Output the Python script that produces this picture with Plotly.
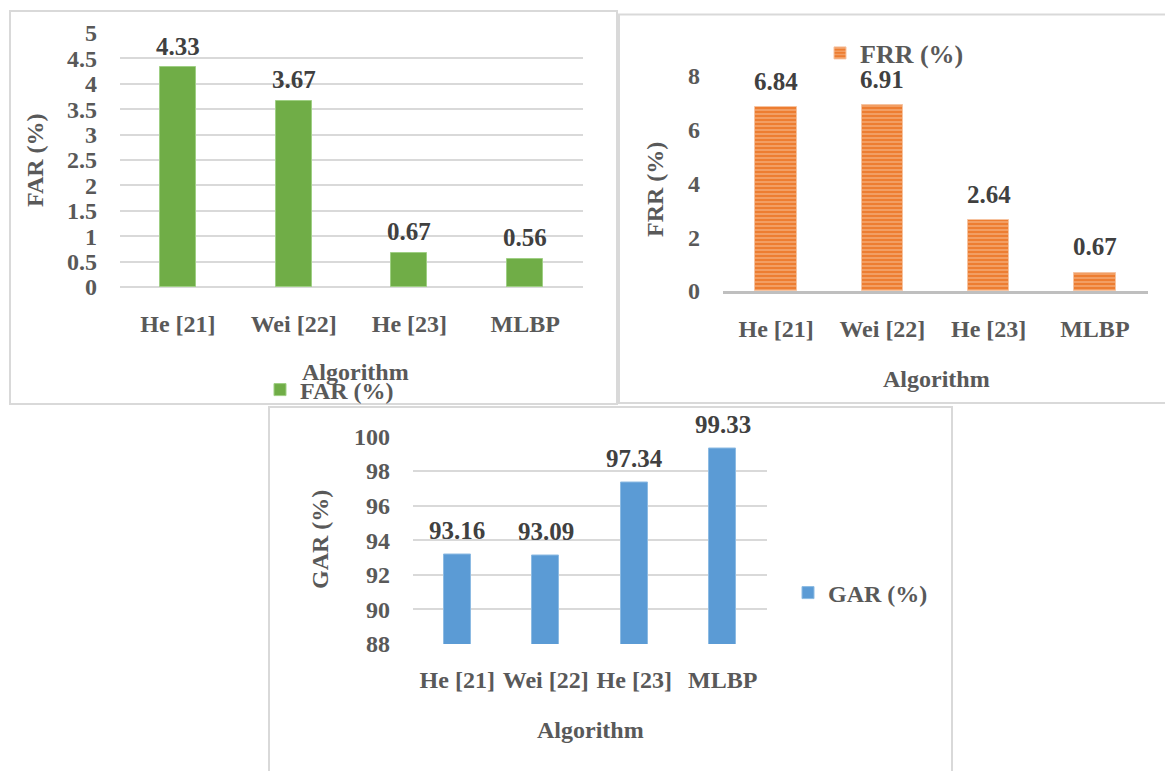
import plotly.graph_objects as go

# Recognition metrics per algorithm
algorithms = ["He [21]", "Wei [22]", "He [23]", "MLBP"]
far_values = [4.33, 3.67, 0.67, 0.56]
frr_values = [6.84, 6.91, 2.64, 0.67]
gar_values = [93.16, 93.09, 97.34, 99.33]

W, H = 1165, 771
FONT = "Liberation Serif"
TXT = "#595959"
LBL = "#404040"
GRID = "#d9d9d9"


def px(x):
    return x / W


def py(y):
    return 1 - y / H


fig = go.Figure()

# --- FAR panel ---
fig.add_trace(go.Bar(
    x=algorithms, y=far_values, name="<b>FAR (%)</b>", width=0.31,
    marker=dict(color="#70AD47", line=dict(color="#9fcf84", width=1)),
    xaxis="x", yaxis="y", legend="legend",
))

# --- FRR panel (striped fill) ---
fig.add_trace(go.Bar(
    x=algorithms, y=frr_values, name="<b>FRR (%)</b>", width=0.39,
    marker=dict(
        color="#ED7D31",
        line=dict(color="#f6c3a0", width=1),
        pattern=dict(shape="-", fgcolor="#fbd0b0", bgcolor="#ED7D31",
                     size=4, solidity=0.4, fillmode="overlay"),
    ),
    xaxis="x2", yaxis="y2", legend="legend2",
))

# --- GAR panel ---
fig.add_trace(go.Bar(
    x=algorithms, y=gar_values, name="<b>GAR (%)</b>", width=0.31,
    marker=dict(color="#5B9BD5", line=dict(color="#8dbbe3", width=1)),
    xaxis="x3", yaxis="y3", legend="legend3",
))

tickfont = dict(family=FONT, size=24, color=TXT)
bold_cats = [f"<b>{a}</b>" for a in algorithms]
xcommon = dict(type="category", tickfont=tickfont, showgrid=False,
               ticks="", fixedrange=True, tickvals=algorithms,
               ticktext=bold_cats)

far_ticks = [i * 0.5 for i in range(11)]
frr_ticks = [0, 2, 4, 6, 8]
gar_ticks = list(range(88, 101, 2))

fig.update_layout(
    width=W, height=H,
    margin=dict(l=0, r=0, t=0, b=0, autoexpand=False),
    paper_bgcolor="white", plot_bgcolor="white",
    font=dict(family=FONT, color=TXT),
    bargap=0,
    xaxis=dict(domain=[px(120), px(583)], anchor="y", ticklabelstandoff=20,
               showline=False, **xcommon),
    yaxis=dict(domain=[py(287), py(33)], range=[0, 5],
               tickvals=far_ticks,
               ticktext=[f"<b>{v:g}</b>" for v in far_ticks],
               anchor="x", showgrid=True, gridcolor=GRID, gridwidth=2,
               zeroline=True, zerolinecolor=GRID, zerolinewidth=2,
               tickfont=tickfont, ticklabelstandoff=22, fixedrange=True),
    xaxis2=dict(domain=[px(723), px(1148)], anchor="y2", ticklabelstandoff=14,
                showline=True, linecolor="#bfbfbf", linewidth=3, **xcommon),
    yaxis2=dict(domain=[py(291), py(76)], range=[0, 8],
                tickvals=frr_ticks,
                ticktext=[f"<b>{v}</b>" for v in frr_ticks],
                anchor="x2", showgrid=False, zeroline=False,
                tickfont=tickfont, ticklabelstandoff=22, fixedrange=True),
    xaxis3=dict(domain=[px(413), px(767)], anchor="y3", ticklabelstandoff=19,
                showline=False, **xcommon),
    yaxis3=dict(domain=[py(644), py(436.5)], range=[88, 100],
                tickvals=gar_ticks,
                ticktext=[f"<b>{v}</b>" for v in gar_ticks],
                anchor="x3", showgrid=True, gridcolor=GRID, gridwidth=2,
                zeroline=False, tickfont=tickfont, ticklabelstandoff=22,
                fixedrange=True),
    legend=dict(x=px(260), y=py(390), xanchor="left", yanchor="middle",
                font=dict(family=FONT, size=24, color=TXT),
                bgcolor="rgba(0,0,0,0)", itemwidth=30),
    legend2=dict(x=px(820), y=py(53), xanchor="left", yanchor="middle",
                 font=dict(family=FONT, size=26, color=TXT),
                 bgcolor="rgba(0,0,0,0)", itemwidth=30),
    legend3=dict(x=px(788), y=py(593), xanchor="left", yanchor="middle",
                 font=dict(family=FONT, size=24, color=TXT),
                 bgcolor="rgba(0,0,0,0)", itemwidth=30),
    showlegend=True,
)

# Panel frames
frame = dict(type="rect", xref="paper", yref="paper",
             line=dict(color=GRID, width=2), fillcolor="rgba(0,0,0,0)",
             layer="below")
fig.add_shape(x0=px(10), x1=px(617), y0=py(404), y1=py(11), **frame)
fig.add_shape(x0=px(619), x1=px(1172), y0=py(403), y1=py(14.5), **frame)
fig.add_shape(x0=px(269), x1=px(952), y0=py(790), y1=py(407), **frame)

# Value labels above bars
labfont = dict(family=FONT, size=25, color=LBL)
for xa, ya, vals, shift in (("x", "y", far_values, 21),
                            ("x2", "y2", frr_values, 26),
                            ("x3", "y3", gar_values, 24)):
    for a, v in zip(algorithms, vals):
        fig.add_annotation(x=a, y=v, xref=xa, yref=ya, text=f"<b>{v:.2f}</b>",
                           showarrow=False, yshift=shift, yanchor="middle",
                           font=labfont)

# Axis titles
ttl = dict(family=FONT, size=24, color=TXT)
titles = [
    (35, 160, "FAR (%)", -90),
    (355, 372, "Algorithm", 0),
    (655, 190, "FRR (%)", -90),
    (936, 379, "Algorithm", 0),
    (320, 540, "GAR (%)", -90),
    (590, 730, "Algorithm", 0),
]
for x, y, t, ang in titles:
    fig.add_annotation(x=px(x), y=py(y), xref="paper", yref="paper",
                       text=f"<b>{t}</b>", showarrow=False, textangle=ang,
                       font=ttl, xanchor="center", yanchor="middle")

fig.write_html("out.html")
